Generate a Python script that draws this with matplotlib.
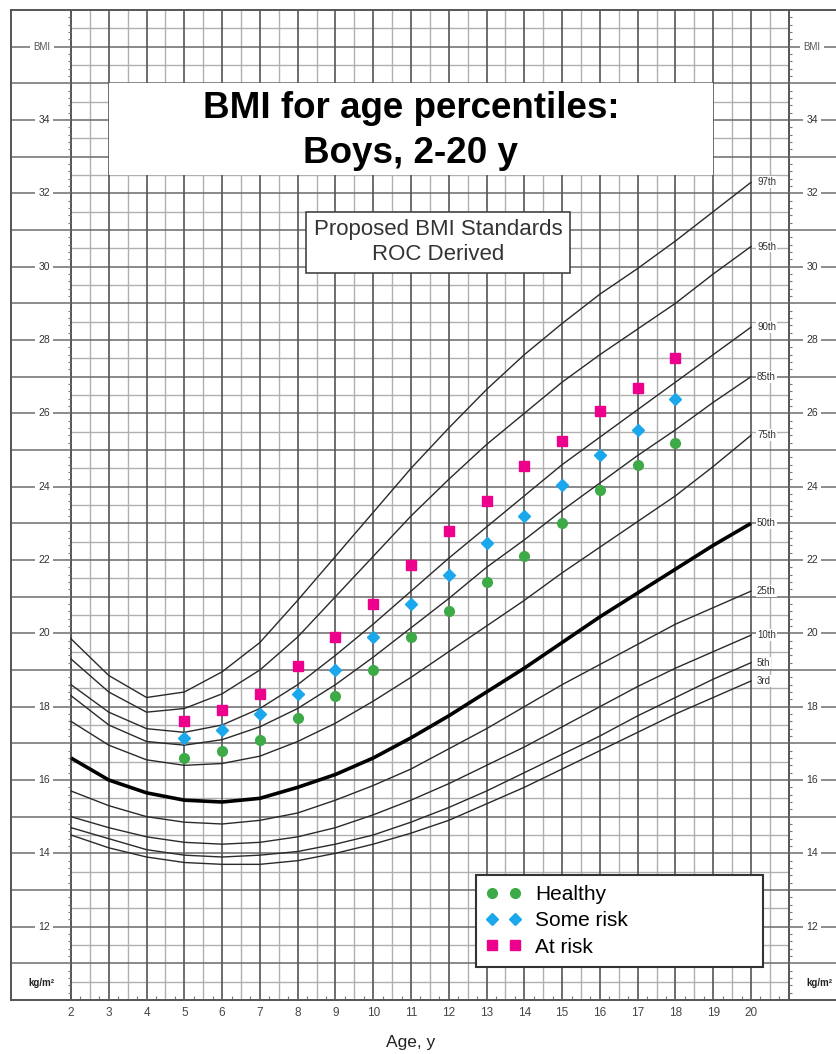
import numpy as np
import matplotlib
matplotlib.use('Agg')
import matplotlib.pyplot as plt
from matplotlib.patches import Rectangle

plt.rcParams['font.family'] = ['Liberation Sans', 'DejaVu Sans']

# percentile curves, BMI at ages 2..20
ages = list(range(2, 21))
p3 = [14.5, 14.15, 13.9, 13.75, 13.7, 13.7, 13.8, 14.0, 14.25, 14.55, 14.9, 15.35, 15.8, 16.3, 16.8, 17.3, 17.8, 18.25, 18.7]
p5 = [14.7, 14.4, 14.1, 13.95, 13.9, 13.95, 14.05, 14.25, 14.5, 14.85, 15.25, 15.7, 16.2, 16.7, 17.2, 17.75, 18.25, 18.75, 19.2]
p10 = [15.0, 14.7, 14.45, 14.3, 14.25, 14.3, 14.45, 14.7, 15.05, 15.45, 15.9, 16.4, 16.9, 17.45, 18.0, 18.55, 19.05, 19.5, 19.95]
p25 = [15.7, 15.3, 15.0, 14.85, 14.8, 14.9, 15.1, 15.45, 15.85, 16.3, 16.85, 17.4, 18.0, 18.6, 19.15, 19.7, 20.25, 20.7, 21.15]
p50 = [16.6, 16.0, 15.65, 15.45, 15.4, 15.5, 15.8, 16.15, 16.6, 17.15, 17.75, 18.4, 19.05, 19.75, 20.45, 21.1, 21.75, 22.4, 23.0]
p75 = [17.6, 16.95, 16.55, 16.4, 16.45, 16.65, 17.05, 17.55, 18.15, 18.8, 19.5, 20.2, 20.9, 21.65, 22.35, 23.05, 23.75, 24.55, 25.4]
p85 = [18.3, 17.5, 17.05, 16.95, 17.1, 17.45, 17.95, 18.6, 19.35, 20.15, 20.95, 21.8, 22.55, 23.35, 24.1, 24.85, 25.55, 26.3, 27.0]
p90 = [18.6, 17.85, 17.4, 17.3, 17.5, 17.95, 18.6, 19.4, 20.25, 21.15, 22.05, 22.9, 23.75, 24.6, 25.35, 26.1, 26.85, 27.6, 28.35]
p95 = [19.3, 18.4, 17.85, 17.95, 18.35, 19.0, 19.9, 21.0, 22.1, 23.2, 24.2, 25.15, 26.0, 26.85, 27.6, 28.3, 29.0, 29.8, 30.55]
p97 = [19.85, 18.85, 18.25, 18.4, 18.95, 19.75, 20.9, 22.1, 23.3, 24.5, 25.6, 26.65, 27.6, 28.45, 29.25, 29.95, 30.7, 31.5, 32.3]
curves = [p3, p5, p10, p25, p50, p75, p85, p90, p95, p97]
curve_names = ['3rd', '5th', '10th', '25th', '50th', '75th', '85th', '90th', '95th', '97th']

# proposed standards
pt_ages = list(range(5, 19))
healthy = [16.6, 16.8, 17.1, 17.7, 18.3, 19.0, 19.9, 20.6, 21.4, 22.1, 23.0, 23.9, 24.6, 25.2]
some_risk = [17.15, 17.35, 17.8, 18.35, 19.0, 19.9, 20.8, 21.6, 22.45, 23.2, 24.05, 24.85, 25.55, 26.4]
at_risk = [17.6, 17.9, 18.35, 19.1, 19.9, 20.8, 21.85, 22.8, 23.6, 24.55, 25.25, 26.05, 26.7, 27.5]

bmi_labels = list(range(12, 36, 2))
age_labels = list(range(2, 21))

W, H = 836, 1054
fig = plt.figure(figsize=(W / 100, H / 100), dpi=100)
ax = fig.add_axes([11 / W, 1 - 1000 / H, (W - 11) / W, 990 / H])
ppy = 680 / 18  # pixels per year
x_lo = 2 - 60 / ppy
x_hi = 2 + 765 / ppy
ax.set_xlim(x_lo, x_hi)
ax.set_ylim(10, 37)
ax.set_xticks([])
ax.set_yticks([])
ax.spines['right'].set_visible(False)
for s in ['left', 'top', 'bottom']:
    ax.spines[s].set_color('#555555')
    ax.spines[s].set_linewidth(1.4)

# grid
half_y = np.arange(10.5, 37, 1.0)
full_y = np.arange(11, 37, 1)
half_x = np.arange(2.5, 21, 1.0)
full_x = np.arange(3, 21, 1)
ax.hlines(half_y, 2, 21, color='#b0b0b0', lw=1.0, zorder=1)
ax.vlines(half_x, 10, 37, color='#b0b0b0', lw=1.0, zorder=1)
ax.hlines(full_y, 2, 21, color='#6a6a6a', lw=1.1, zorder=1.5)
ax.vlines(full_x, 10, 37, color='#555555', lw=1.2, zorder=1.5)
ax.vlines([2, 21], 10, 37, color='#555555', lw=1.4, zorder=2)

# margin columns
ax.hlines(full_y, x_lo, 2, color='#6e6e6e', lw=1.1)
ax.hlines(full_y, 21, x_hi, color='#6e6e6e', lw=1.1)
small = [v for v in np.arange(10.2, 37, 0.2) if abs(v - round(v)) > 0.05]
ax.hlines(small, 2 - 0.09, 2, color='#777777', lw=0.8)
ax.hlines(small, 21, 21 + 0.09, color='#777777', lw=0.8)
qx = [v for v in np.arange(2.25, 21, 0.25) if abs(v * 2 - round(v * 2)) > 0.1]
ax.vlines(qx, 10, 10.12, color='#777777', lw=0.8)

lab_box = dict(facecolor='white', edgecolor='none', pad=2.5)
for b in bmi_labels:
    for xx in (2 - 27 / ppy, 2 + 741 / ppy):
        ax.text(xx, b, str(b), ha='center', va='center', fontsize=7.5,
                color='#333333', bbox=lab_box, zorder=3)
for xx in (2 - 29 / ppy, 2 + 741 / ppy):
    ax.text(xx, 36, 'BMI', ha='center', va='center', fontsize=7,
            color='#555555', bbox=lab_box, zorder=3)
ax.text(2 - 30 / ppy, 10.45, 'kg/m²', ha='center', va='center', fontsize=7,
        fontweight='bold', color='#222222')
ax.text(2 + 748 / ppy, 10.45, 'kg/m²', ha='center', va='center', fontsize=7,
        fontweight='bold', color='#222222', clip_on=False)

# age axis
for a in age_labels:
    ax.text(a, 10 - 13 / 36.67, str(a), ha='center', va='center',
            fontsize=8.5, color='#444444', clip_on=False)
ax.text(11, 10 - 43 / 36.67, 'Age, y', ha='center', va='center',
        fontsize=12.5, color='#222222', clip_on=False)

# percentile curves
for vals, name in zip(curves, curve_names):
    if name == '50th':
        ax.plot(ages, vals, color='black', lw=2.6, zorder=4, solid_capstyle='butt')
    else:
        ax.plot(ages, vals, color='#2a2a2a', lw=1.0, zorder=4)
    ax.text(20.16, vals[-1], name, ha='left', va='center', fontsize=7,
            color='#333333', zorder=5,
            bbox=dict(facecolor='white', edgecolor='none', pad=0.6))

# title block
ax.add_patch(Rectangle((3, 32.5), 16, 2.5, facecolor='white', edgecolor='none', zorder=3))
ax.text(11, 33.7, 'BMI for age percentiles:\nBoys, 2-20 y', ha='center', va='center',
        fontsize=26.5, fontweight='bold', color='black', linespacing=1.38, zorder=5)

ax.text(2 + 367 / ppy, 30.66, 'Proposed BMI Standards\nROC Derived', ha='center',
        va='center', fontsize=16, color='#333333', linespacing=1.25, zorder=5,
        bbox=dict(boxstyle='square,pad=0.33', facecolor='white', edgecolor='#444444', lw=1.2))

# proposed standard points
h1, = ax.plot(pt_ages, healthy, 'o', color='#3daa47', ms=7, ls='none', zorder=6, label='Healthy')
h2, = ax.plot(pt_ages, some_risk, 'D', color='#1aa7ec', ms=6, ls='none', zorder=6, label='Some risk')
h3, = ax.plot(pt_ages, at_risk, 's', color='#ec008c', ms=6.5, ls='none', zorder=6, label='At risk')

leg = ax.legend(handles=[h1, h2, h3], numpoints=2, loc='upper left',
                bbox_to_anchor=(2 + 405 / ppy, 37 - 865 / 36.67, 287 / ppy, 0),
                bbox_transform=ax.transData, mode='expand', borderaxespad=0,
                fontsize=15, frameon=True, fancybox=False, framealpha=1,
                edgecolor='#333333', handlelength=1.7, handletextpad=0.65,
                borderpad=0.49, labelspacing=0.35)
leg.get_frame().set_linewidth(1.5)
leg.set_zorder(7)

fig.savefig('out.png', dpi=100)
